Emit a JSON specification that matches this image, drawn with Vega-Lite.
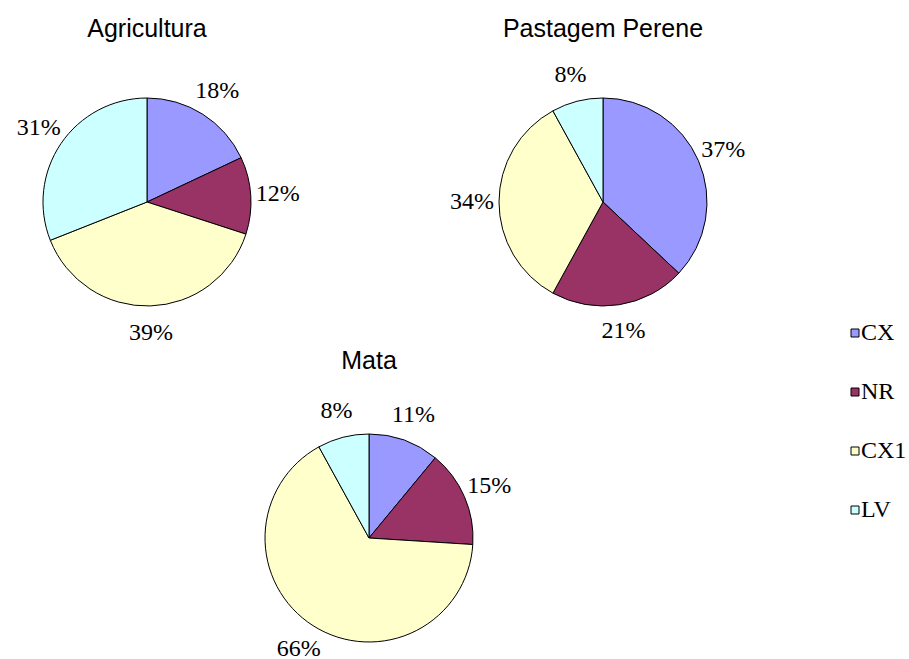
{
  "$schema": "https://vega.github.io/schema/vega-lite/v6.json",
  "background": "white",
  "padding": 0,
  "datasets": {
    "solos": [
      {"uso": "Agricultura", "classe": "CX", "ordem": 1, "valor": 0.18},
      {"uso": "Agricultura", "classe": "NR", "ordem": 2, "valor": 0.12},
      {"uso": "Agricultura", "classe": "CX1", "ordem": 3, "valor": 0.39},
      {"uso": "Agricultura", "classe": "LV", "ordem": 4, "valor": 0.31},
      {"uso": "Pastagem Perene", "classe": "CX", "ordem": 1, "valor": 0.37},
      {"uso": "Pastagem Perene", "classe": "NR", "ordem": 2, "valor": 0.21},
      {"uso": "Pastagem Perene", "classe": "CX1", "ordem": 3, "valor": 0.34},
      {"uso": "Pastagem Perene", "classe": "LV", "ordem": 4, "valor": 0.08},
      {"uso": "Mata", "classe": "CX", "ordem": 1, "valor": 0.11},
      {"uso": "Mata", "classe": "NR", "ordem": 2, "valor": 0.15},
      {"uso": "Mata", "classe": "CX1", "ordem": 3, "valor": 0.66},
      {"uso": "Mata", "classe": "LV", "ordem": 4, "valor": 0.08}
    ]
  },
  "config": {
    "view": {"stroke": null},
    "title": {"font": "Liberation Sans", "fontSize": 25, "fontWeight": "normal", "color": "black", "baseline": "alphabetic", "frame": "group", "anchor": "middle"},
    "legend": {
      "symbolType": "square",
      "symbolSize": 64,
      "symbolStrokeColor": "black",
      "symbolStrokeWidth": 1,
      "symbolOpacity": 1,
      "labelFont": "Liberation Serif",
      "labelFontSize": 24,
      "labelColor": "black",
      "rowPadding": 35,
      "labelOffset": -6,
      "padding": 0
    }
  },
  "spacing": -55,
  "resolve": {"scale": {"color": "shared"}},
  "vconcat": [
    {
      "spacing": 0,
      "hconcat": [
        {
          "width": 294,
          "height": 404,
          "title": {"text": "Agricultura", "offset": -42},
          "data": {"name": "solos"},
          "transform": [{"filter": "datum.uso === 'Agricultura'"}],
          "encoding": {
            "theta": {"field": "valor", "type": "quantitative", "stack": true},
            "order": {"field": "ordem", "type": "quantitative"},
            "color": {
              "field": "classe", "type": "nominal",
              "scale": {"domain": ["CX", "NR", "CX1", "LV"], "range": ["#9999FF", "#993366", "#FFFFCC", "#CCFFFF"]},
              "legend": {"orient": "none", "legendX": 843, "legendY": 321, "title": null}
            }
          },
          "layer": [
            {"mark": {"type": "arc", "outerRadius": 104, "stroke": "black", "strokeWidth": 1}},
            {"mark": {"type": "text", "radius": 131, "font": "Liberation Serif", "fontSize": 24, "color": "black", "align": "center", "baseline": "middle"},
             "encoding": {"text": {"field": "valor", "type": "quantitative", "format": ".0%"}, "color": {"value": "black"}}}
          ]
        },
        {
          "width": 606,
          "height": 404,
          "title": {"text": "Pastagem Perene", "offset": -42},
          "data": {"name": "solos"},
          "transform": [{"filter": "datum.uso === 'Pastagem Perene'"}],
          "encoding": {
            "theta": {"field": "valor", "type": "quantitative", "stack": true},
            "order": {"field": "ordem", "type": "quantitative"},
            "color": {
              "field": "classe", "type": "nominal",
              "scale": {"domain": ["CX", "NR", "CX1", "LV"], "range": ["#9999FF", "#993366", "#FFFFCC", "#CCFFFF"]},
              "legend": {"orient": "none", "legendX": 843, "legendY": 321, "title": null}
            }
          },
          "layer": [
            {"mark": {"type": "arc", "outerRadius": 104, "stroke": "black", "strokeWidth": 1}},
            {"mark": {"type": "text", "radius": 131, "font": "Liberation Serif", "fontSize": 24, "color": "black", "align": "center", "baseline": "middle"},
             "encoding": {"text": {"field": "valor", "type": "quantitative", "format": ".0%"}, "color": {"value": "black"}}}
          ]
        }
      ]
    },
    {
      "width": 738,
      "height": 268,
      "title": {"text": "Mata", "offset": 25},
      "data": {"name": "solos"},
      "transform": [{"filter": "datum.uso === 'Mata'"}],
      "encoding": {
        "theta": {"field": "valor", "type": "quantitative", "stack": true},
        "order": {"field": "ordem", "type": "quantitative"},
        "color": {
          "field": "classe", "type": "nominal",
          "scale": {"domain": ["CX", "NR", "CX1", "LV"], "range": ["#9999FF", "#993366", "#FFFFCC", "#CCFFFF"]},
          "legend": {"orient": "none", "legendX": 843, "legendY": 321, "title": null}
        }
      },
      "layer": [
        {"mark": {"type": "arc", "outerRadius": 104, "stroke": "black", "strokeWidth": 1}},
        {"mark": {"type": "text", "radius": 131, "font": "Liberation Serif", "fontSize": 24, "color": "black", "align": "center", "baseline": "middle"},
         "encoding": {"text": {"field": "valor", "type": "quantitative", "format": ".0%"}, "color": {"value": "black"}}}
      ]
    }
  ]
}
